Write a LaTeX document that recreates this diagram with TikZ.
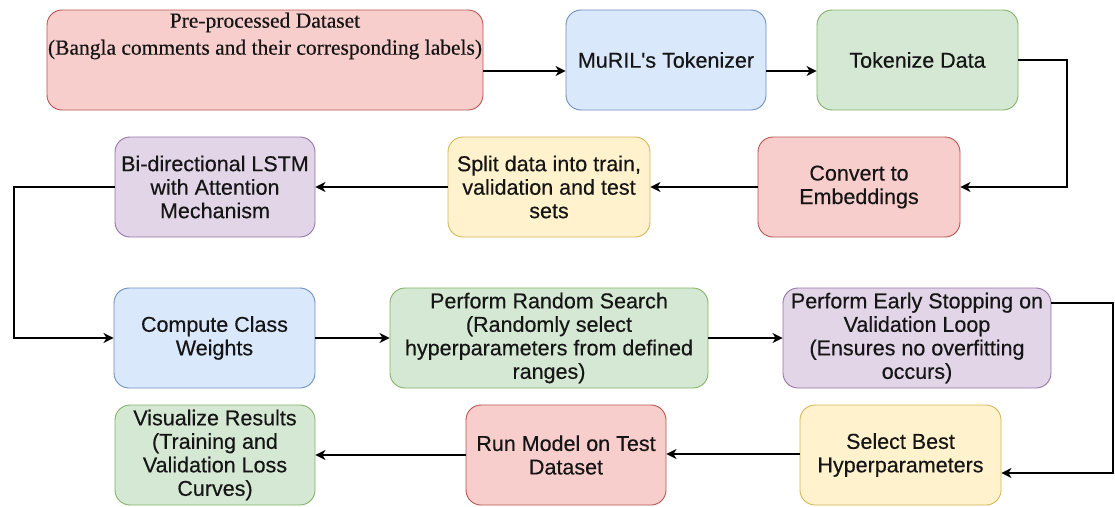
\documentclass[tikz,border=0pt]{standalone}
\usepackage{fontspec}
\setmainfont{Liberation Sans}[FakeBold=0.3]
\newfontfamily\boxface{Liberation Sans}[FakeBold=0.35]
\newfontfamily\serifface{Liberation Serif}[FakeBold=0.35]
\usetikzlibrary{arrows.meta,calc}

% draw.io palette
\definecolor{rfill}{HTML}{F8CECC}\definecolor{rline}{HTML}{B85450}
\definecolor{bfill}{HTML}{DAE8FC}\definecolor{bline}{HTML}{6C8EBF}
\definecolor{gfill}{HTML}{D5E8D4}\definecolor{gline}{HTML}{82B366}
\definecolor{yfill}{HTML}{FFF2CC}\definecolor{yline}{HTML}{D6B656}
\definecolor{pfill}{HTML}{E1D5E7}\definecolor{pline}{HTML}{9673A6}
\definecolor{txt}{HTML}{151515}

\tikzset{
  box/.style={rounded corners=15pt, minimum height=100pt, minimum width=200pt,
    align=center, text=txt, inner sep=2pt, line width=0.9pt,
    font=\boxface\fontsize{21.5}{23.5}\selectfont},
  redbox/.style={box, fill=rfill, draw=rline},
  bluebox/.style={box, fill=bfill, draw=bline},
  greenbox/.style={box, fill=gfill, draw=gline},
  yellowbox/.style={box, fill=yfill, draw=yline},
  purplebox/.style={box, fill=pfill, draw=pline},
  arr/.style={draw=black, line width=1.8pt,
    -{Stealth[length=10pt,width=10pt,inset=3pt]}},
}

\begin{document}
\begin{tikzpicture}[x=1pt,y=-1pt]
\useasboundingbox (0,0) rectangle (1115,506);

% row 1
\node[redbox, minimum width=436pt] (pre) at (265,60) {};
\node[anchor=north, align=center, text=txt, inner sep=0pt,
      font=\serifface\fontsize{21.5}{27}\selectfont] (pretext)
      at ($(pre.north)+(0,3)$)
      {Pre-processed Dataset\\(Bangla comments and their corresponding labels)};
\node[bluebox] (muril) at (666,60) {MuRIL\textquotesingle s Tokenizer};
\node[greenbox, minimum width=201pt] (tok) at (917.5,60) {Tokenize Data};

% row 2
\node[redbox, minimum width=202pt] (conv) at (859,187) {Convert to\\Embeddings};
\node[yellowbox, minimum width=202pt] (split) at (549,187) {Split data into train,\\validation and test\\sets};
\node[purplebox] (bi) at (215,187) {Bi-directional LSTM\\with Attention\\Mechanism};

% row 3
\node[bluebox, minimum width=201pt] (comp) at (214.5,338) {Compute Class\\Weights};
\node[greenbox, minimum width=318pt] (rand) at (549,338) {Perform Random Search\\(Randomly select\\hyperparameters from defined\\ranges)};
\node[purplebox, minimum width=268pt] (early) at (917,338) {Perform Early Stopping on\\Validation Loop\\(Ensures no overfitting\\occurs)};

% row 4
\node[yellowbox, minimum width=201pt] (sel) at (900.5,455) {Select Best\\Hyperparameters};
\node[redbox] (run) at (566,455) {Run Model on Test\\Dataset};
\node[greenbox] (vis) at (215,455) {Visualize Results\\(Training and\\Validation Loss\\Curves)};

% bend points of the routed connectors
\coordinate (c1) at (1067,60);
\coordinate (c2) at (1067,187);
\coordinate (c3) at (14,187);
\coordinate (c4) at (14,338);
\coordinate (c5) at (1113,303);
\coordinate (c6) at (1113,473);

% connectors
\draw[arr] (pre.east |- 0,71) -- (muril.west |- 0,71);
\draw[arr] (muril.east |- 0,71) -- (tok.west |- 0,71);
\draw[arr] (tok.east) -- (c1) -- (c2) -- (conv.east);
\draw[arr] (conv.west) -- (split.east);
\draw[arr] (split.west) -- (bi.east);
\draw[arr] (bi.west) -- (c3) -- (c4) -- (comp.west);
\draw[arr] (comp.east) -- (rand.west);
\draw[arr] (rand.east) -- (early.west);
\draw[arr] (early.east |- c5) -- (c5) -- (c6) -- (sel.east |- c6);
\draw[arr] (sel.west |- 0,454) -- (run.east |- 0,454);
\draw[arr] (run.west) -- (vis.east);
\end{tikzpicture}
\end{document}
